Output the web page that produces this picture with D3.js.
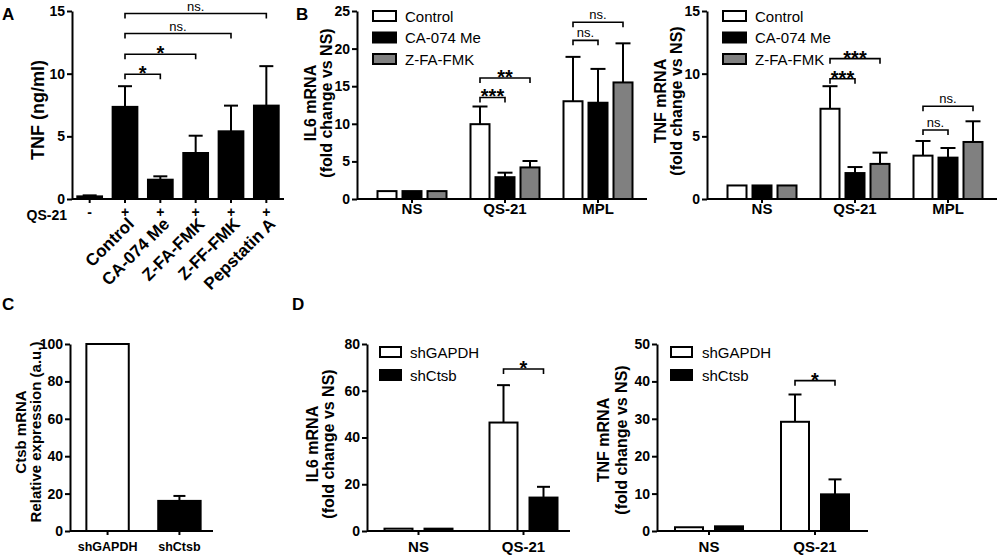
<!DOCTYPE html>
<html>
<head>
<meta charset="utf-8">
<script src="https://cdn.jsdelivr.net/npm/d3@7"></script>
<style>
  body { margin: 0; background: #fff; }
  svg { display: block; }
</style>
</head>
<body>
<svg id="fig" width="999" height="555"></svg>
<script>
// ── data ──
// A: TNF secretion
const aLabels = ["", "Control", "CA-074 Me", "Z-FA-FMK", "Z-FF-FMK", "Pepstatin A"];
const aQS21 = ["-", "+", "+", "+", "+", "+"];
const aTNF = [0.21, 7.35, 1.54, 3.67, 5.4, 7.45];
const aTNFtop = [0.29, 9.0, 1.81, 5.05, 7.45, 10.6];
const aSig = [
  { a: 1, b: 2, y: 9.95, t: "*" },
  { a: 1, b: 3, y: 11.55, t: "*" },
  { a: 1, b: 4, y: 13.2, t: "ns." },
  { a: 1, b: 5, y: 14.8, t: "ns." }
];

// B: mRNA fold change, inhibitors
const bGroups = ["NS", "QS-21", "MPL"];
const bSeries = ["Control", "CA-074 Me", "Z-FA-FMK"];
const bIL6 = [[1.05, 1.05, 1.05], [9.95, 2.9, 4.2], [13.0, 12.8, 15.5]];
const bIL6top = [[null, null, null], [12.3, 3.5, 5.05], [18.9, 17.3, 20.7]];
const bIL6sig = [
  { g: 1, a: 0, b: 1, y: 13.5, t: "***" },
  { g: 1, a: 0, b: 2, y: 16.1, t: "**" },
  { g: 2, a: 0, b: 1, y: 21.1, t: "ns." },
  { g: 2, a: 0, b: 2, y: 23.5, t: "ns." }
];
const bTNF = [[1.08, 1.08, 1.08], [7.2, 2.07, 2.8], [3.46, 3.3, 4.55]];
const bTNFtop = [[null, null, null], [9.0, 2.55, 3.7], [4.63, 4.07, 6.2]];
const bTNFsig = [
  { g: 1, a: 0, b: 1, y: 9.6, t: "***" },
  { g: 1, a: 0, b: 2, y: 11.2, t: "***" },
  { g: 2, a: 0, b: 1, y: 5.5, t: "ns." },
  { g: 2, a: 0, b: 2, y: 7.4, t: "ns." }
];

// C: Ctsb knock-down
const cLabels = ["shGAPDH", "shCtsb"];
const cCtsb = [100, 16.1];
const cCtsbTop = [null, 18.75];

// D: mRNA fold change, shRNA
const dGroups = ["NS", "QS-21"];
const dSeries = ["shGAPDH", "shCtsb"];
const dIL6 = [[1.0, 1.0], [46.4, 14.3]];
const dIL6top = [[null, null], [62.4, 18.9]];
const dIL6sig = [{ g: 1, a: 0, b: 1, y: 69.3, t: "*" }];
const dTNF = [[1.0, 1.25], [29.2, 9.8]];
const dTNFtop = [[null, null], [36.5, 13.8]];
const dTNFsig = [{ g: 1, a: 0, b: 1, y: 40.2, t: "*" }];

const bFills = ["#ffffff", "#000000", "#808080"];
const dFills = ["#ffffff", "#000000"];

// ── helpers ──
const FONT = '"Liberation Sans", Arial, Helvetica, sans-serif';
const LW = 2;
const svg = d3.select("#fig").attr("font-family", FONT);

const styleAxis = (g, fs) => {
  g.attr("font-family", FONT).attr("font-size", fs).attr("font-weight", "bold");
  g.selectAll("path, line").attr("stroke", "#000").attr("stroke-width", LW);
  g.selectAll("text").attr("fill", "#000");
};

function yAxis(y, x0, ticks) {
  svg.append("g").attr("transform", `translate(${x0},0)`)
    .call(d3.axisLeft(y).tickValues(ticks).tickSize(5).tickPadding(2).tickSizeOuter(0))
    .call(g => styleAxis(g, 14));
}

function xAxis(x, y0, x0, x1, pad, fs, fmt) {
  svg.append("line").attr("x1", x0).attr("x2", x1).attr("y1", y0).attr("y2", y0)
    .attr("stroke", "#000").attr("stroke-width", LW);
  const ax = d3.axisBottom(x).tickSize(4).tickPadding(pad).tickSizeOuter(0);
  if (fmt) ax.tickFormat(fmt);
  const g = svg.append("g").attr("transform", `translate(0,${y0})`).call(ax);
  g.select(".domain").remove();
  styleAxis(g, fs);
  return g;
}

function drawBars(data, y, bw, capW) {
  const g = svg.append("g");
  g.selectAll("rect").data(data).join("rect")
    .attr("x", d => d.cx - bw / 2).attr("y", d => y(d.v))
    .attr("width", bw).attr("height", d => y(0) - y(d.v))
    .attr("fill", d => d.fill).attr("stroke", "#000").attr("stroke-width", LW);
  const eb = data.filter(d => d.top != null);
  g.selectAll("line.eb").data(eb).join("line").attr("class", "eb")
    .attr("x1", d => d.cx).attr("x2", d => d.cx)
    .attr("y1", d => y(d.v)).attr("y2", d => y(d.top))
    .attr("stroke", "#000").attr("stroke-width", LW);
  g.selectAll("line.cap").data(eb).join("line").attr("class", "cap")
    .attr("x1", d => d.cx - capW / 2).attr("x2", d => d.cx + capW / 2)
    .attr("y1", d => y(d.top)).attr("y2", d => y(d.top))
    .attr("stroke", "#000").attr("stroke-width", LW);
}

function drawSig(list, xOf, y) {
  const g = svg.append("g");
  list.forEach(s => {
    const x1 = xOf(s, s.a), x2 = xOf(s, s.b), yy = y(s.y);
    g.append("path").attr("d", `M${x1},${yy + 5}V${yy}H${x2}V${yy + 5}`)
      .attr("fill", "none").attr("stroke", "#000").attr("stroke-width", 1.6);
    const star = s.t.startsWith("*");
    g.append("text").attr("x", (x1 + x2) / 2).attr("y", star ? yy + 6 : yy - 3)
      .attr("text-anchor", "middle")
      .attr("font-size", star ? 20 : 13)
      .attr("font-weight", star ? "bold" : "normal")
      .text(s.t);
  });
}

function legend(x, ys, labels, fills, w, h, tx) {
  const g = svg.append("g");
  labels.forEach((t, i) => {
    g.append("rect").attr("x", x).attr("y", ys[i] - h / 2).attr("width", w).attr("height", h)
      .attr("fill", fills[i]).attr("stroke", "#000").attr("stroke-width", LW);
    g.append("text").attr("x", tx).attr("y", ys[i] + 5.5).attr("font-size", 15).text(t);
  });
}

function yLabel(lines, xs, yc, fs) {
  lines.forEach((t, i) => svg.append("text")
    .attr("transform", `translate(${xs[i]},${yc}) rotate(-90)`)
    .attr("text-anchor", "middle").attr("font-size", fs).attr("font-weight", "bold").text(t));
}

function panelLetter(t, x, y) {
  svg.append("text").attr("x", x).attr("y", y).attr("font-size", 17).attr("font-weight", "bold").text(t);
}

// grouped bar panel (B and D)
function groupedPanel(o) {
  const y = d3.scaleLinear().domain([0, o.ymax]).range([o.y0, o.y1]);
  const x = d3.scaleBand().domain(o.groups).range(o.xr);
  const xs = d3.scaleBand().domain(o.series).range([-o.inner, o.inner]).paddingInner(o.pin);
  const cx = (gi, si) => x(o.groups[gi]) + x.bandwidth() / 2 + xs(o.series[si]) + xs.bandwidth() / 2;
  yAxis(y, o.ax, o.ticks);
  xAxis(x, o.y0, o.ax, o.axEnd, o.pad, 15);
  const data = [];
  o.means.forEach((row, gi) => row.forEach((v, si) =>
    data.push({ cx: cx(gi, si), v, top: o.tops[gi][si], fill: o.fills[si] })));
  drawBars(data, y, xs.bandwidth(), o.cap);
  drawSig(o.sig, (s, si) => cx(s.g, si), y);
}

// ── A ──
panelLetter("A", 2, 20);
const yA = d3.scaleLinear().domain([0, 15]).range([199, 11]);
const xA = d3.scaleBand().domain(d3.range(aLabels.length)).range([72, 284]).paddingInner(0.3).paddingOuter(0.15);
const cxA = i => xA(i) + xA.bandwidth() / 2;
yAxis(yA, 72, [0, 5, 10, 15]);
xAxis(xA, 199, 72, 284, 4, 14, i => aQS21[i]);
svg.append("text").attr("x", 67).attr("y", 219.5).attr("text-anchor", "end")
  .attr("font-size", 14).attr("font-weight", "bold").text("QS-21");
svg.append("g").selectAll("text").data(aLabels).join("text")
  .attr("transform", (d, i) => `translate(${cxA(i) + 10},225) rotate(-45)`)
  .attr("text-anchor", "end").attr("font-size", 17).attr("font-weight", "bold").text(d => d);
drawBars(aTNF.map((v, i) => ({ cx: cxA(i), v, top: aTNFtop[i], fill: "#000" })), yA, xA.bandwidth(), 14);
drawSig(aSig, (s, i) => cxA(i), yA);
yLabel(["TNF (ng/ml)"], [44], 110, 18);

// ── B ──
panelLetter("B", 296, 20);
groupedPanel({
  ymax: 25, y0: 199, y1: 11, ticks: [0, 5, 10, 15, 20, 25],
  groups: bGroups, series: bSeries, means: bIL6, tops: bIL6top, fills: bFills, sig: bIL6sig,
  xr: [365.5, 644.5], ax: 357, axEnd: 647, inner: 34.5, pin: 0.24, pad: 0.5, cap: 15
});
legend(373, [16, 37.5, 59], bSeries, bFills, 23, 10, 405);
yLabel(["IL6 mRNA", "(fold change vs NS)"], [316, 332], 103, 16);

groupedPanel({
  ymax: 15, y0: 199, y1: 11, ticks: [0, 5, 10, 15],
  groups: bGroups, series: bSeries, means: bTNF, tops: bTNFtop, fills: bFills, sig: bTNFsig,
  xr: [715.5, 994.5], ax: 707, axEnd: 997, inner: 34.5, pin: 0.24, pad: 0.5, cap: 15
});
legend(723, [16, 37.5, 59], bSeries, bFills, 23, 10, 755);
yLabel(["TNF mRNA", "(fold change vs NS)"], [666, 682], 101, 16);

// ── C ──
panelLetter("C", 2, 310);
const yC = d3.scaleLinear().domain([0, 100]).range([531, 344]);
const xC = d3.scaleBand().domain(cLabels).range([72, 215]).paddingInner(0.41).paddingOuter(0.2);
yAxis(yC, 70, [0, 20, 40, 60, 80, 100]);
xAxis(xC, 531, 70, 213, 7.5, 12.5);
drawBars(cCtsb.map((v, i) => ({ cx: xC(cLabels[i]) + xC.bandwidth() / 2, v, top: cCtsbTop[i], fill: dFills[i] })),
  yC, xC.bandwidth(), 12);
yLabel(["Ctsb mRNA", "Relative expression (a.u.)"], [26, 41], 432, 15);

// ── D ──
panelLetter("D", 292, 310);
groupedPanel({
  ymax: 80, y0: 531, y1: 344, ticks: [0, 20, 40, 60, 80],
  groups: dGroups, series: dSeries, means: dIL6, tops: dIL6top, fills: dFills, sig: dIL6sig,
  xr: [366, 576], ax: 367, axEnd: 570, inner: 34, pin: 0.3, pad: 6.5, cap: 13
});
legend(380, [352, 375], dSeries, dFills, 21, 10, 410);
yLabel(["IL6 mRNA", "(fold change vs NS)"], [318, 334], 444, 16);

groupedPanel({
  ymax: 50, y0: 531, y1: 344, ticks: [0, 10, 20, 30, 40, 50],
  groups: dGroups, series: dSeries, means: dTNF, tops: dTNFtop, fills: dFills, sig: dTNFsig,
  xr: [656, 868], ax: 657, axEnd: 868, inner: 34, pin: 0.3, pad: 6.5, cap: 13
});
legend(671, [352, 375], dSeries, dFills, 21, 10, 702);
yLabel(["TNF mRNA", "(fold change vs NS)"], [609, 627], 440, 16);
</script>
</body>
</html>
